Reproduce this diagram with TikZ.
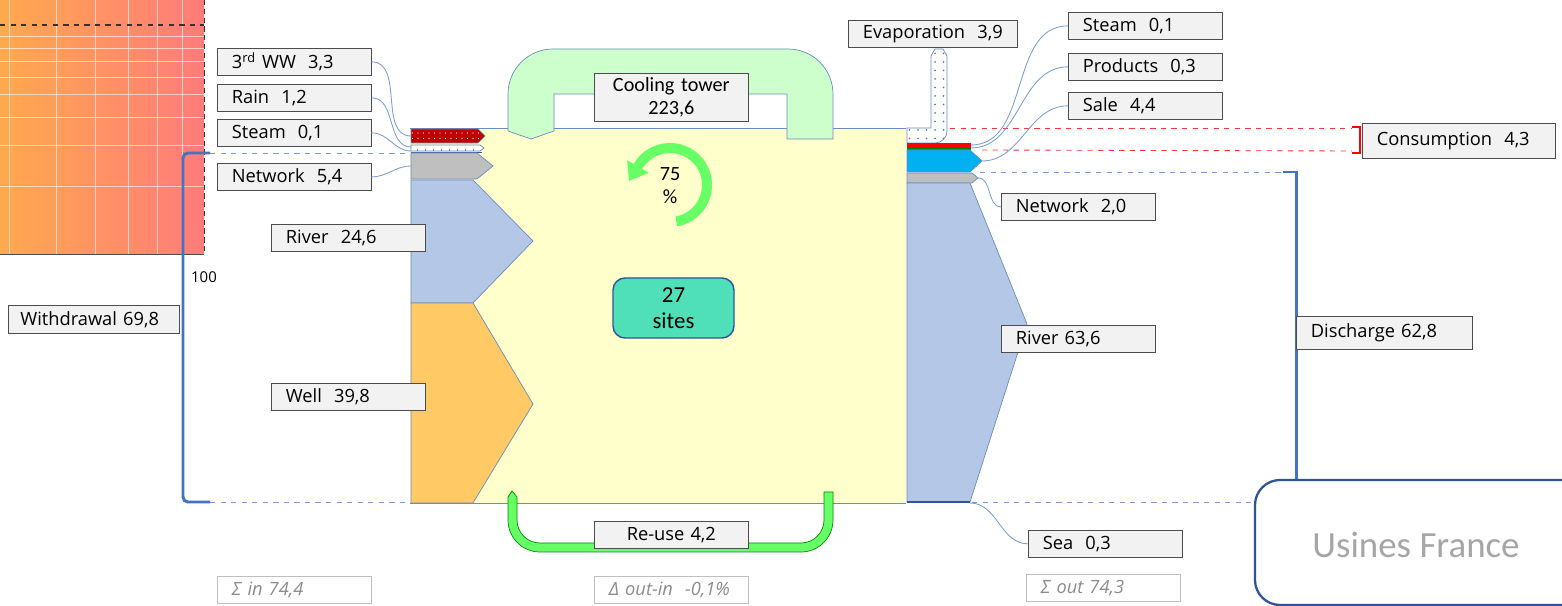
\documentclass[tikz,border=0pt]{standalone}
\usepackage{fontspec}
\setmainfont{Open Sans}
\newfontfamily\calfont{Carlito}
\usepackage{tikz}
\usetikzlibrary{positioning, calc, patterns.meta}

\definecolor{panelorange}{HTML}{FFA94D}
\definecolor{panelpink}{HTML}{FF7B7B}
\definecolor{siteyellow}{HTML}{FFFFCC}
\definecolor{flowblue}{HTML}{B4C7E7}
\definecolor{wellorange}{HTML}{FFC966}
\definecolor{coolgreen}{HTML}{CCFFCC}
\definecolor{reusegreen}{HTML}{66FF66}
\definecolor{netgrey}{HTML}{BFBFBF}
\definecolor{brackblue}{HTML}{4472C4}
\definecolor{linkblue}{HTML}{7FA0D4}
\definecolor{edgeblue}{HTML}{6A8CC0}
\definecolor{lblfill}{HTML}{F2F2F2}
\definecolor{saleblue}{HTML}{00B0F0}
\definecolor{wwred}{HTML}{C00000}
\definecolor{siteteal}{HTML}{4FE0B9}
\definecolor{usinesblue}{HTML}{2F5597}

\tikzset{
  lbl/.style={draw=black!70, fill=lblfill, anchor=north west, minimum height=5.4mm,
    text width=25mm, inner xsep=2.9mm, inner ysep=0pt, align=left,
    font=\fontsize{10.4}{12}\selectfont},
  sumlbl/.style={lbl, draw=black!25, fill=white, text=black!45,
    font=\fontsize{10.4}{12}\selectfont\itshape},
  link/.style={linkblue, line width=0.5pt},
  bracket/.style={brackblue, line width=1.7pt},
  guide/.style={brackblue!70, dashed, line width=0.5pt},
  redguide/.style={red!80, dashed, line width=0.5pt},
  flow/.style={draw=edgeblue, line width=0.4pt},
}

\begin{document}
\begin{tikzpicture}[x=0.2mm, y=-0.2mm]
\useasboundingbox (0,0) rectangle (1562,606);

% Left panel
\shade[left color=panelorange, right color=panelpink] (0,0) rectangle (204,254);
\foreach \gx in {9,56,95,128,157,182}
  \draw[white, opacity=0.6, line width=0.5pt] (\gx,0) -- (\gx,254);
\foreach \gy in {36,48,61,77,94,117,145,186}
  \draw[white, opacity=0.6, line width=0.5pt] (0,\gy) -- (204,\gy);
\draw[black!80, dashed, line width=0.6pt] (0,25) -- (204,25);
\draw[black!80, densely dashed, line width=0.5pt] (204,0) -- (204,254);
\draw[black!70, line width=0.5pt] (0,254) -- (204,254);

% Site box
\fill[siteyellow] (410,128) rectangle (906,503);
\draw[edgeblue, line width=0.5pt] (410,128) -- (906,128);
\draw[edgeblue, line width=0.5pt] (410,503) -- (906,503);

% Cooling tower loop
\draw[flow, fill=coolgreen] (787,139) -- (787,94) -- (554,94) -- (554,131) -- (531,139)
  -- (508,131) -- (508,94) arc[start angle=180, end angle=90, radius=9mm]
  -- (788,49) arc[start angle=90, end angle=0, radius=9mm] -- (833,139) -- cycle;

% Re-use loop
\draw[draw=green!55!black, line width=0.4pt, fill=reusegreen] (833,492) -- (833,520)
  arc[start angle=0, end angle=-90, radius=6.4mm] -- (540,552)
  arc[start angle=270, end angle=180, radius=6.4mm] -- (508,497) -- (512,491) -- (517,497)
  -- (517,520) arc[start angle=180, end angle=270, radius=4.6mm] -- (801,543)
  arc[start angle=270, end angle=360, radius=4.6mm] -- (824,492) -- cycle;

% Inputs
\path[flow, preaction={fill=wwred}, pattern={Dots[distance=1.1mm, radius=0.35pt]}, pattern color=white]
  (411,129) -- (478,129) -- (485,136) -- (478,143) -- (411,143) -- cycle;
\draw[flow, fill=white] (411,145) -- (480,145) -- (484,148) -- (480,151) -- (411,151) -- cycle;
\foreach \tx in {417,425,...,477}
  \draw[edgeblue, line width=0.3pt] (\tx,149) -- (\tx,151);
\draw[usinesblue, line width=0.6pt] (411,152.5) -- (482,152.5);
\draw[flow, fill=netgrey] (411,153) -- (477,153) -- (493,166) -- (477,179) -- (411,179) -- cycle;
\draw[flow, fill=flowblue] (411,180) -- (473,180) -- (533,241) -- (473,303) -- (411,303) -- cycle;
\draw[flow, fill=wellorange] (411,303) -- (473,303) -- (533,404) -- (473,503) -- (411,503) -- cycle;

% Outputs
\path[flow, preaction={fill=white}, pattern={Dots[distance=1.7mm, radius=0.55pt]}, pattern color=brackblue]
  (907,128) -- (907,143) -- (935,143) arc[start angle=-90, end angle=0, radius=2.4mm]
  -- (947,56) -- (943,49) -- (935,49) -- (931,56) -- (931,128) -- cycle;
\fill[red] (907,143) rectangle (971,147);
\fill[green!50!black] (907,147) rectangle (971,150);
\draw[flow, fill=saleblue] (907,150) -- (970,150) -- (982,161) -- (970,172) -- (907,172) -- cycle;
\draw[flow, fill=netgrey] (907,173) -- (972,173) -- (978,178) -- (972,183) -- (907,183) -- cycle;
\draw[flow, fill=flowblue] (907,183) -- (970,183) -- (1027,324) -- (970,502) -- (907,502) -- cycle;
\draw[usinesblue, line width=1.2pt] (907,502) -- (970,502);

% Recirculation ratio
\begin{scope}[shift={(670,185)}]
\fill[reusegreen] (-80:8.4mm) arc[start angle=-80, end angle=150, radius=8.4mm]
  -- (150:9.9mm) -- (-8.2mm,0.8mm) -- (150:4.9mm) -- (150:6.4mm)
  arc[start angle=150, end angle=-80, radius=6.4mm] -- cycle;
\end{scope}
\node[font=\calfont\fontsize{11.5}{13}\selectfont, align=center] (ratio) at (670,186) {75\\\%};
\node[draw=usinesblue, fill=siteteal, rounded corners=2.4mm, line width=0.8pt,
  minimum width=24.2mm, minimum height=12mm, align=center,
  font=\calfont\fontsize{13}{15}\selectfont] (sites) at (673.5,308) {27\\sites};

% Withdrawal bracket
\draw[guide] (210,153) -- (410,153);
\draw[guide] (210,502) -- (410,502);
\draw[bracket, rounded corners=1mm] (210,153) -- (183,153) -- (183,502) -- (210,502);
\node[font=\fontsize{8.5}{10}\selectfont] (hundred) at (204,277) {100};

% Consumption and discharge brackets
\draw[redguide] (950,128) -- (1352,128);
\draw[redguide] (982,150) -- (1352,151);
\draw[red, line width=1.6pt] (1352,127) -- (1360,127) -- (1360,153) -- (1352,153);
\draw[guide] (980,172) -- (1283,172);
\draw[guide] (972,502) -- (1255,502);
\draw[bracket] (1283,172) -- (1296,172) -- (1296,480);

% Usines frame
\draw[usinesblue, line width=1.3pt] (1562,480) -- (1280,480)
  arc[start angle=90, end angle=180, radius=5mm] -- (1255,580)
  arc[start angle=180, end angle=270, radius=5mm] -- (1562,605);
\node[text=black!35, font=\calfont\fontsize{21}{24}\selectfont] (usines) at (1416,545) {Usines France};

% Labels
\node[lbl] (inww) at (217,48) {3\textsuperscript{rd} WW\ \ 3,3};
\node[lbl] (inrain) at (217,84) {Rain\ \ 1,2};
\node[lbl] (insteam) at (217,119) {Steam\ \ 0,1};
\node[lbl] (innet) at (217,163) {Network\ \ 5,4};
\node[lbl] (inriver) at (271,224) {River\ \ 24,6};
\node[lbl] (inwell) at (271,383) {Well\ \ 39,8};
\node[lbl, text width=29.4mm, minimum height=5.6mm, inner xsep=2.4mm] (withdrawal) at (8,305) {Withdrawal 69,8};
\node[lbl, align=center, minimum height=9.6mm, font=\calfont\fontsize{11.5}{13}\selectfont] (cooling) at (594,73) {Cooling tower\\223,6};
\node[lbl, align=center] (reuse) at (594,521) {Re-use 4,2};
\node[lbl, text width=28mm] (evap) at (848,20) {Evaporation\ \ 3,9};
\node[lbl] (outsteam) at (1068,12) {Steam\ \ 0,1};
\node[lbl] (outprod) at (1068,53) {Products\ \ 0,3};
\node[lbl] (outsale) at (1068,92) {Sale\ \ 4,4};
\node[lbl, text width=32.8mm, minimum height=7mm] (consumption) at (1362,123) {Consumption\ \ 4,3};
\node[lbl] (outnet) at (1001,193) {Network\ \ 2,0};
\node[lbl] (outriver) at (1001,325) {River 63,6};
\node[lbl] (outsea) at (1028,530) {Sea\ \ 0,3};
\node[lbl, text width=29.4mm, minimum height=6.6mm] (discharge) at (1296,316) {Discharge 62,8};
\node[sumlbl] (sumin) at (217,576) {Σ in 74,4};
\node[sumlbl] (delta) at (594,576) {Δ out-in\ \ -0,1\%};
\node[sumlbl] (sumout) at (1026,574) {Σ out 74,3};

% Connectors
\coordinate (wwin) at (411,136);
\coordinate (rainin) at (411,147);
\coordinate (steamin) at (411,151);
\coordinate (netin) at (411,166);
\coordinate (steamout) at (971,145);
\coordinate (prodout) at (971,148);
\coordinate (saleout) at (982,161);
\coordinate (netout) at (978,178);
\coordinate (seaout) at (970,503);
\draw[link] (inww.east) to[out=0, in=180] (wwin);
\draw[link] (inrain.east) to[out=0, in=180] (rainin);
\draw[link] (insteam.east) to[out=0, in=180] (steamin);
\draw[link] (innet.east) to[out=0, in=180] (netin);
\draw[link] (outsteam.west) to[out=180, in=0] (steamout);
\draw[link] (outprod.west) to[out=180, in=0] (prodout);
\draw[link] (outsale.west) to[out=180, in=0] (saleout);
\draw[link] (outnet.west) to[out=180, in=0] (netout);
\draw[link] (outsea.west) to[out=180, in=0] (seaout);
\end{tikzpicture}
\end{document}
